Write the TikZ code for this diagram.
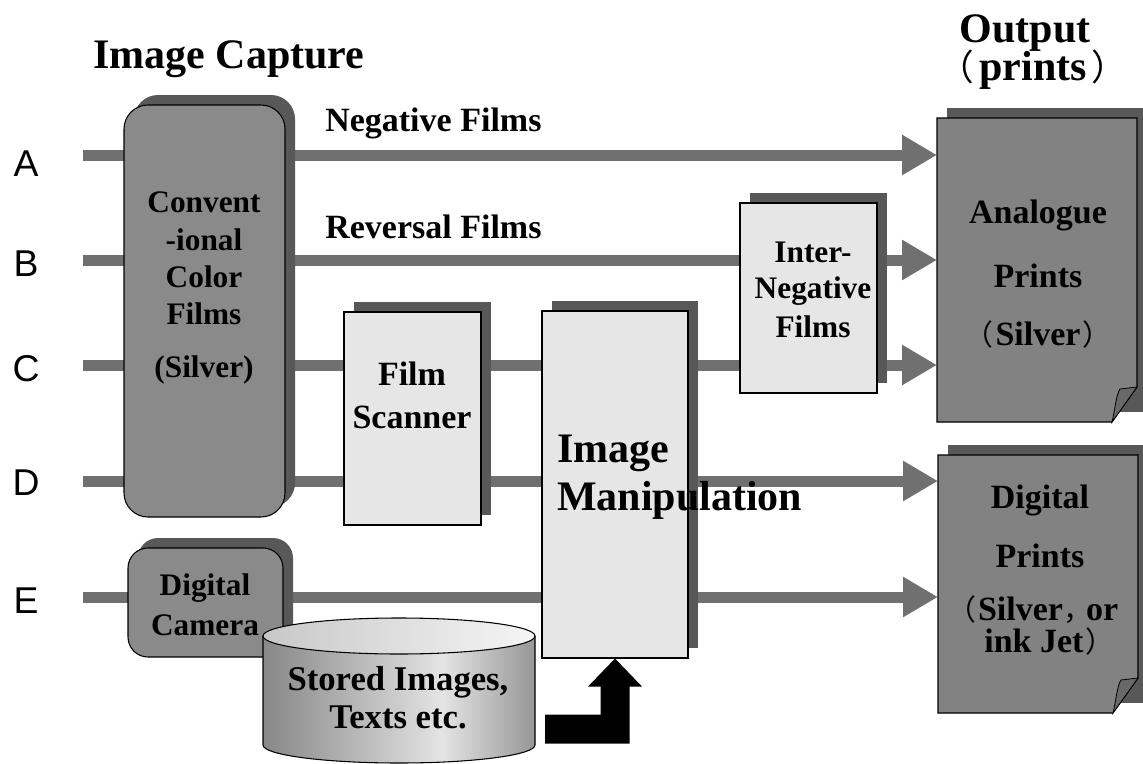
\documentclass[tikz,border=0pt]{standalone}
\usepackage{fontspec}
\setmainfont{Liberation Serif}
\newfontfamily\lblfont{Liberation Sans}
\newfontfamily\cjkfont[RawFeature=+halt,Scale=0.85]{Noto Sans CJK SC}
\usetikzlibrary{arrows.meta,shadows}

\definecolor{linkgray}{RGB}{112,112,112}
\definecolor{shadowgray}{RGB}{88,88,88}
\definecolor{filmgray}{RGB}{138,138,138}
\definecolor{printgray}{RGB}{130,130,130}
\definecolor{foldgray}{RGB}{105,105,105}
\definecolor{paper}{RGB}{230,230,230}
\definecolor{cylA}{RGB}{135,135,135}
\definecolor{cylB}{RGB}{228,228,228}
\definecolor{cylC}{RGB}{150,150,150}
\definecolor{cyltopA}{RGB}{200,200,200}
\definecolor{cyltopB}{RGB}{245,245,245}

\pgfdeclarehorizontalshading{cylbody}{100bp}{color(0bp)=(cylA); color(25bp)=(cylA);
  color(58bp)=(cylB); color(75bp)=(cylC); color(100bp)=(cylC)}

% full-width punctuation
\newcommand\fwp[1]{{\mdseries\cjkfont #1}}

\begin{document}
\begin{tikzpicture}[x=0.75pt,y=-0.75pt,
  link/.style={draw=linkgray,line width=8.25pt},
  linkarrow/.style={link,-{Triangle[length=26.25pt,width=28.5pt]}},
  dropshadow/.style={general shadow={fill=shadowgray,shadow xshift=7.5pt,shadow yshift=7.5pt}},
  filmbox/.style={draw=black,line width=0.8pt,fill=filmgray,rounded corners=18pt,dropshadow,inner sep=0pt},
  paperbox/.style={draw=black,line width=0.8pt,fill=paper,dropshadow,inner sep=0pt},
  frame/.style={inner sep=0pt,outer sep=0pt},
  printface/.style={draw=black,line width=0.8pt,fill=printgray},
  foldflap/.style={draw=black,line width=0.6pt,fill=foldgray},
  txt/.style={inner sep=0pt,anchor=base,font=\bfseries\fontsize{#1}{#1}\selectfont},
  lbl/.style={inner sep=0pt,anchor=base,font=\lblfont\fontsize{28}{28}\selectfont},
]
\useasboundingbox (0,0) rectangle (1143,764);
\clip (0,0) rectangle (1143,764);
\fill[white] (0,0) rectangle (1143,764);

% output frames (drawn later)
\node[frame,minimum width=150pt,minimum height=228pt] (analog) at (1037,270) {};
\node[frame,minimum width=150pt,minimum height=193.5pt] (digital) at (1038,584) {};

% route start points
\coordinate (a0) at (83,155);
\coordinate (b0) at (83,260);
\coordinate (c0) at (83,365);
\coordinate (d0) at (83,481);
\coordinate (e0) at (83,597);

% routes A-E
\draw[linkarrow] (a0) -- (analog.west |- a0);
\draw[linkarrow] (b0) -- (analog.west |- b0);
\draw[linkarrow] (c0) -- (analog.west |- c0);
\draw[linkarrow] (d0) -- (digital.west |- d0);
\draw[linkarrow] (e0) -- (digital.west |- e0);

% capture and processing boxes
\node[filmbox,minimum width=120.75pt,minimum height=309pt] (conv) at (204.5,311) {};
\node[filmbox,rounded corners=15pt,minimum width=116.25pt,minimum height=81.75pt] (camera) at (205.5,602.5) {};
\node[paperbox,minimum width=102.75pt,minimum height=159.75pt] (scanner) at (412.5,418.5) {};
\node[paperbox,minimum width=109.5pt,minimum height=260.25pt] (manip) at (615,484.5) {};
\node[paperbox,minimum width=102.75pt,minimum height=142.5pt] (inter) at (808.5,298) {};

% print sheets with folded corner
\foreach \p in {analog,digital}{
  \fill[shadowgray] ([shift={(10,-10)}]\p.north west) rectangle ([shift={(10,-10)}]\p.south east);
  \draw[printface] (\p.north west) -- (\p.north east) -- ([shift={(0,-35)}]\p.south east)
    -- ([shift={(-25,0)}]\p.south east) -- (\p.south west) -- cycle;
  \draw[foldflap] ([shift={(-25,0)}]\p.south east)
    .. controls ([shift={(-22,-12)}]\p.south east) and ([shift={(-21,-27)}]\p.south east)
    .. ([shift={(-17,-33)}]\p.south east) -- ([shift={(0,-35)}]\p.south east) -- cycle;
}

% storage cylinder
\node[frame,minimum width=204pt,minimum height=108.75pt] (store) at (399,690.5) {};
\shade[shading=cylbody] (263,636) -- (263,745) arc[start angle=180,end angle=0,x radius=136,y radius=18]
  -- (535,636) arc[start angle=0,end angle=180,x radius=136,y radius=18] -- cycle;
\draw[line width=0.8pt] (263,636) -- (263,745) arc[start angle=180,end angle=0,x radius=136,y radius=18]
  -- (535,636);
\shadedraw[left color=cyltopA,right color=cyltopB,draw=black,line width=0.8pt]
  (399,636) ellipse[x radius=136,y radius=18];

% stored data feeding the manipulation step
\fill[black] (manip.south) -- ++(27,28) -- ++(-12.5,0) -- ++(0,57) -- ++(-84.5,0)
  -- ++(0,-29) -- ++(55.5,0) -- ++(0,-28) -- ++(-12.5,0) -- cycle;

% route letters
\node[lbl] (la) at (26,176) {A};
\node[lbl] (lb) at (26,276) {B};
\node[lbl] (lc) at (26,381) {C};
\node[lbl] (ld) at (26,495) {D};
\node[lbl] (le) at (26,613) {E};

% headings
\node[txt=31.5,anchor=base west] (ttl) at (93,68) {Image Capture};
\node[txt=31.5] (out1) at (1025,42) {Output};
\node[txt=31.5] (out2) at (1033,80) {\fwp{（}\hspace{0.12em}prints\hspace{0.12em}\fwp{）}};

% route captions
\node[txt=25.5,anchor=base west] (neg) at (325,131) {Negative Films};
\node[txt=25.5,anchor=base west] (rev) at (325,238) {Reversal Films};

% box texts
\node[txt=23.5] (cv1) at (204,212) {Convent};
\node[txt=23.5] (cv2) at (204,250) {-ional};
\node[txt=23.5] (cv3) at (204,287) {Color};
\node[txt=23.5] (cv4) at (204,324) {Films};
\node[txt=23.5] (cv5) at (204,377) {(Silver)};

\node[txt=25.5] (sc1) at (412,385) {Film};
\node[txt=25.5] (sc2) at (412,428) {Scanner};

\node[txt=31.5,anchor=base west] (mp1) at (557,462) {Image};
\node[txt=31.5,anchor=base west] (mp2) at (557,510) {Manipulation};

\node[txt=23.5] (in1) at (813,262) {Inter-};
\node[txt=23.5] (in2) at (813,298) {Negative};
\node[txt=23.5] (in3) at (813,337) {Films};

\node[txt=25.5] (an1) at (1038,223) {Analogue};
\node[txt=25.5] (an2) at (1038,287) {Prints};
\node[txt=25.5] (an3) at (1038,345) {\fwp{（}\hspace{0.05em}Silver\hspace{0.05em}\fwp{）}};

\node[txt=25.5] (dg1) at (1040,508) {Digital};
\node[txt=25.5] (dg2) at (1040,567) {Prints};
\node[txt=25.5] (dg3) at (1040,620) {\fwp{（}\hspace{0.05em}Silver\fwp{，}\hspace{0.25em}or};
\node[txt=25.5] (dg4) at (1042,652) {ink Jet\hspace{0.05em}\fwp{）}};

\node[txt=23.5] (cm1) at (205,595) {Digital};
\node[txt=23.5] (cm2) at (205,635) {Camera};

\node[txt=26] (st1) at (398,690) {Stored Images,};
\node[txt=26] (st2) at (398,728) {Texts etc.};
\end{tikzpicture}
\end{document}
